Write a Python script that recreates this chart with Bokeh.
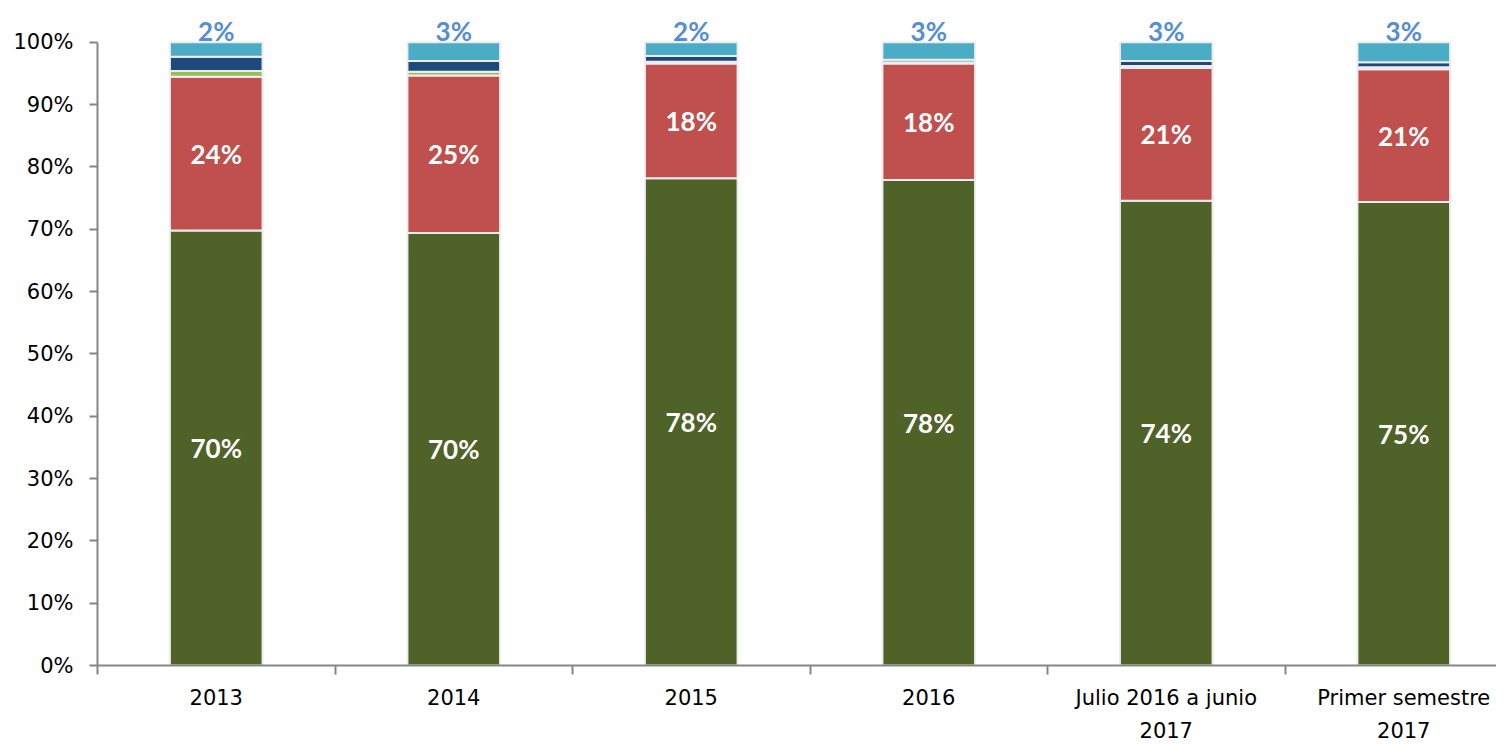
from bokeh.plotting import figure
from bokeh.models import Range1d, FixedTicker, ColumnDataSource
from bokeh.core.properties import value
from bokeh.embed import file_html
from bokeh.resources import INLINE
import numpy as np

categories = ["2013", "2014", "2015", "2016", "Julio 2016 a junio\n2017", "Primer semestre\n2017"]
green = [69.8, 69.4, 78.2, 77.9, 74.6, 74.4]
red = [24.7, 25.3, 18.4, 18.7, 21.3, 21.3]
lightgreen = [0.9, 0.6, 0.3, 0.2, 0.3, 0.3]
darkblue = [2.3, 1.7, 0.9, 0.4, 0.8, 0.8]
lightblue = [2.3, 3.0, 2.2, 2.8, 3.0, 3.2]
green_labels = ["70%", "70%", "78%", "78%", "74%", "75%"]
red_labels = ["24%", "25%", "18%", "18%", "21%", "21%"]
top_labels = ["2%", "3%", "2%", "3%", "3%", "3%"]

LABEL_FONT = "Lato"
AXIS_FONT = "DejaVu Sans"
x = list(range(len(categories)))

p = figure(width=1496, height=746, output_backend="svg", toolbar_location=None,
           x_range=Range1d(-0.5, -0.5 + 1399 / 237.5), y_range=Range1d(0, 667 / 6.25),
           min_border_left=97, min_border_right=0, min_border_top=0, min_border_bottom=79)
p.outline_line_color = None
p.xgrid.visible = False
p.ygrid.visible = False

src = ColumnDataSource(dict(x=x, green=green, red=red, lightgreen=lightgreen,
                            darkblue=darkblue, lightblue=lightblue))
p.vbar_stack(["green", "red", "lightgreen", "darkblue", "lightblue"], x="x", width=0.39,
             color=["#4F6228", "#C0504D", "#9BBB59", "#1F497D", "#4BACC6"],
             line_color="#ededed", line_width=2, source=src)

g = np.array(green)
r = np.array(red)
lab = ColumnDataSource(dict(x=x, gy=g / 2, ry=g + r / 2, ty=[101.8] * len(x),
                            gl=green_labels, rl=red_labels, tl=top_labels))
p.text(x="x", y="gy", text="gl", source=lab, text_align="center", text_baseline="middle",
       text_color="white", text_font=value(LABEL_FONT), text_font_style="bold", text_font_size="26px")
p.text(x="x", y="ry", text="rl", source=lab, text_align="center", text_baseline="middle",
       text_color="white", text_font=value(LABEL_FONT), text_font_style="bold", text_font_size="26px")
p.text(x="x", y="ty", text="tl", source=lab, text_align="center", text_baseline="middle",
       text_color="#558ED5", text_font=value(LABEL_FONT), text_font_style="bold", text_font_size="26px")

ax = p.xaxis[0]
ax.ticker = FixedTicker(ticks=x, minor_ticks=[i - 0.5 for i in range(len(categories) + 1)])
ax.major_label_overrides = {i: c for i, c in enumerate(categories)}
ax.major_tick_line_color = None
ax.minor_tick_line_color = "#868686"
ax.minor_tick_line_width = 2
ax.minor_tick_out = 9
ax.minor_tick_in = 0
ax.axis_line_color = "#868686"
ax.axis_line_width = 2
ax.major_label_text_font = AXIS_FONT
ax.major_label_text_font_size = "21px"
ax.major_label_text_line_height = 1.4
ax.major_label_text_color = "#000000"
ax.major_label_standoff = 11

ay = p.yaxis[0]
ay.ticker = FixedTicker(ticks=list(range(0, 101, 10)))
ay.bounds = (0, 100)
ay.major_label_overrides = {v: f"{v}%" for v in range(0, 101, 10)}
ay.axis_line_color = "#868686"
ay.axis_line_width = 2
ay.major_tick_line_color = "#868686"
ay.major_tick_line_width = 2
ay.major_tick_out = 8
ay.major_tick_in = 0
ay.minor_tick_line_color = None
ay.major_label_text_font = AXIS_FONT
ay.major_label_text_font_size = "21px"
ay.major_label_text_color = "#000000"
ay.major_label_standoff = 16

open("out.html", "w").write(file_html(p, INLINE))
